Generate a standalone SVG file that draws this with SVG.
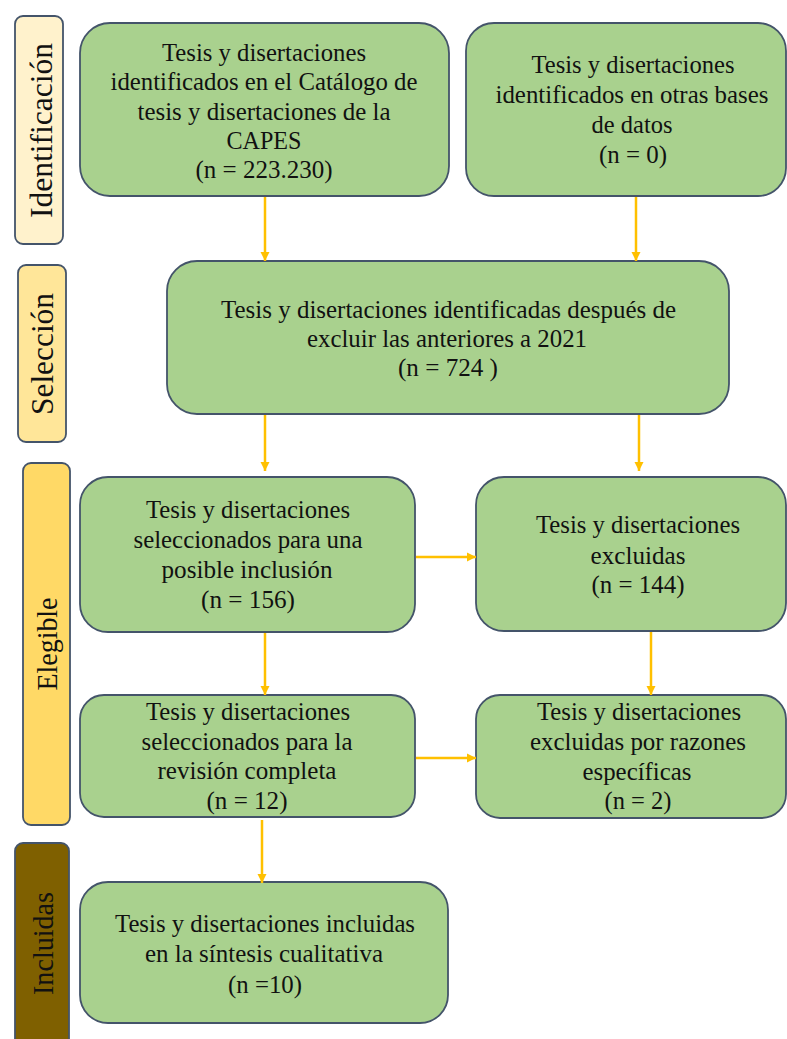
<svg xmlns="http://www.w3.org/2000/svg" width="787" height="1039" viewBox="0 0 787 1039" font-family="'Liberation Serif', 'Times New Roman', 'DejaVu Serif', serif">
<style>
.box{fill:#a9d18e;stroke:#44546a;stroke-width:1.8}
.lab{stroke:#44546a;stroke-width:1.8}
.t{font-family:'Liberation Serif','Times New Roman','DejaVu Serif',serif;font-size:25.5px;fill:#111111;text-anchor:middle}
.lt{font-family:'Liberation Serif','Times New Roman','DejaVu Serif',serif;font-size:31px;fill:#111111;text-anchor:middle}
.c{stroke:#ffc000;stroke-width:2.5;fill:none;marker-end:url(#ah)}
</style>
<defs>
<marker id="ah" markerUnits="userSpaceOnUse" markerWidth="12" markerHeight="12" refX="9" refY="6" orient="auto">
<path d="M0,1.5 L9,6 L0,10.5 Z" fill="#ffc000"/>
</marker>
</defs>
<rect width="787" height="1039" fill="#ffffff"/>

<g id="label-identificacion">
<rect class="lab" x="15" y="16" width="48" height="228" rx="8" fill="#fff2cc"/>
<text class="lt" transform="translate(52,130.5) rotate(-90)" textLength="175" lengthAdjust="spacingAndGlyphs">Identificación</text>
</g>
<g id="label-seleccion">
<rect class="lab" x="18" y="265" width="48" height="177" rx="8" fill="#ffe699"/>
<text class="lt" transform="translate(53,354) rotate(-90)" textLength="122" lengthAdjust="spacingAndGlyphs">Selección</text>
</g>
<g id="label-elegible">
<rect class="lab" x="23" y="463" width="47" height="362" rx="8" fill="#ffd966"/>
<text class="lt" transform="translate(57,644) rotate(-90)" textLength="93" lengthAdjust="spacingAndGlyphs" style="font-size:29px">Elegible</text>
</g>
<g id="label-incluidas">
<rect class="lab" x="15" y="843" width="54" height="210" rx="8" fill="#7f6000"/>
<text class="lt" transform="translate(53,943.5) rotate(-90)" textLength="103" lengthAdjust="spacingAndGlyphs" style="font-size:29px">Incluidas</text>
</g>

<g id="node-catalogo">
<rect class="box" x="80" y="23" width="369" height="173" rx="30"/>
<text class="t" x="264" y="61" textLength="204" lengthAdjust="spacingAndGlyphs">Tesis y disertaciones</text>
<text class="t" x="264" y="90" textLength="307" lengthAdjust="spacingAndGlyphs">identificados en el Catálogo de</text>
<text class="t" x="264" y="120" textLength="253" lengthAdjust="spacingAndGlyphs">tesis y disertaciones de la</text>
<text class="t" x="264" y="149" textLength="75" lengthAdjust="spacingAndGlyphs">CAPES</text>
<text class="t" x="264" y="178" textLength="137" lengthAdjust="spacingAndGlyphs">(n = 223.230)</text>
</g>
<g id="node-otras">
<rect class="box" x="466" y="23" width="320" height="173" rx="28"/>
<text class="t" x="633" y="73" textLength="203" lengthAdjust="spacingAndGlyphs">Tesis y disertaciones</text>
<text class="t" x="632" y="103" textLength="273" lengthAdjust="spacingAndGlyphs">identificados en otras bases</text>
<text class="t" x="632" y="133" textLength="81" lengthAdjust="spacingAndGlyphs">de datos</text>
<text class="t" x="633" y="163" textLength="68" lengthAdjust="spacingAndGlyphs">(n = 0)</text>
</g>
<g id="node-seleccion">
<rect class="box" x="167" y="261" width="562" height="153" rx="30"/>
<text class="t" x="448.5" y="318" textLength="455" lengthAdjust="spacingAndGlyphs">Tesis y disertaciones identificadas después de</text>
<text class="t" x="447" y="347" textLength="280" lengthAdjust="spacingAndGlyphs">excluir las anteriores a 2021</text>
<text class="t" x="448" y="376" textLength="100" lengthAdjust="spacingAndGlyphs">(n = 724 )</text>
</g>
<g id="node-posible">
<rect class="box" x="80" y="477" width="335" height="155" rx="28"/>
<text class="t" x="248" y="518" textLength="204" lengthAdjust="spacingAndGlyphs">Tesis y disertaciones</text>
<text class="t" x="248" y="548" textLength="229" lengthAdjust="spacingAndGlyphs">seleccionados para una</text>
<text class="t" x="247" y="578" textLength="171" lengthAdjust="spacingAndGlyphs">posible inclusión</text>
<text class="t" x="248" y="608" textLength="94" lengthAdjust="spacingAndGlyphs">(n = 156)</text>
</g>
<g id="node-excluidas">
<rect class="box" x="476" y="477" width="310" height="154" rx="28"/>
<text class="t" x="638" y="533" textLength="204" lengthAdjust="spacingAndGlyphs">Tesis y disertaciones</text>
<text class="t" x="638" y="564" textLength="95" lengthAdjust="spacingAndGlyphs">excluidas</text>
<text class="t" x="638" y="593" textLength="93" lengthAdjust="spacingAndGlyphs">(n = 144)</text>
</g>
<g id="node-completa">
<rect class="box" x="80" y="695" width="335" height="122" rx="24"/>
<text class="t" x="248" y="720" textLength="204" lengthAdjust="spacingAndGlyphs">Tesis y disertaciones</text>
<text class="t" x="247" y="750" textLength="211" lengthAdjust="spacingAndGlyphs">seleccionados para la</text>
<text class="t" x="247" y="779" textLength="179" lengthAdjust="spacingAndGlyphs">revisión completa</text>
<text class="t" x="247" y="809" textLength="81" lengthAdjust="spacingAndGlyphs">(n = 12)</text>
</g>
<g id="node-razones">
<rect class="box" x="476" y="695" width="310" height="123" rx="24"/>
<text class="t" x="639" y="720" textLength="204" lengthAdjust="spacingAndGlyphs">Tesis y disertaciones</text>
<text class="t" x="638" y="750" textLength="216" lengthAdjust="spacingAndGlyphs">excluidas por razones</text>
<text class="t" x="637" y="780" textLength="109" lengthAdjust="spacingAndGlyphs">específicas</text>
<text class="t" x="638" y="809" textLength="67" lengthAdjust="spacingAndGlyphs">(n = 2)</text>
</g>
<g id="node-incluidas">
<rect class="box" x="80" y="882" width="368" height="141" rx="28"/>
<text class="t" x="265" y="932" textLength="300" lengthAdjust="spacingAndGlyphs">Tesis y disertaciones incluidas</text>
<text class="t" x="264" y="962" textLength="238" lengthAdjust="spacingAndGlyphs">en la síntesis cualitativa</text>
<text class="t" x="265" y="993" textLength="74" lengthAdjust="spacingAndGlyphs">(n =10)</text>
</g>

<g id="connectors">
<line class="c" x1="265" y1="197" x2="265" y2="261"/>
<line class="c" x1="636" y1="197" x2="636" y2="261"/>
<line class="c" x1="265" y1="415" x2="265" y2="471"/>
<line class="c" x1="639" y1="415" x2="639" y2="471"/>
<line class="c" x1="416" y1="557" x2="476" y2="557"/>
<line class="c" x1="265" y1="633" x2="265" y2="695"/>
<line class="c" x1="651" y1="632" x2="651" y2="695"/>
<line class="c" x1="416" y1="758" x2="476" y2="758"/>
<line class="c" x1="262" y1="820" x2="262" y2="883"/>
</g>
</svg>
